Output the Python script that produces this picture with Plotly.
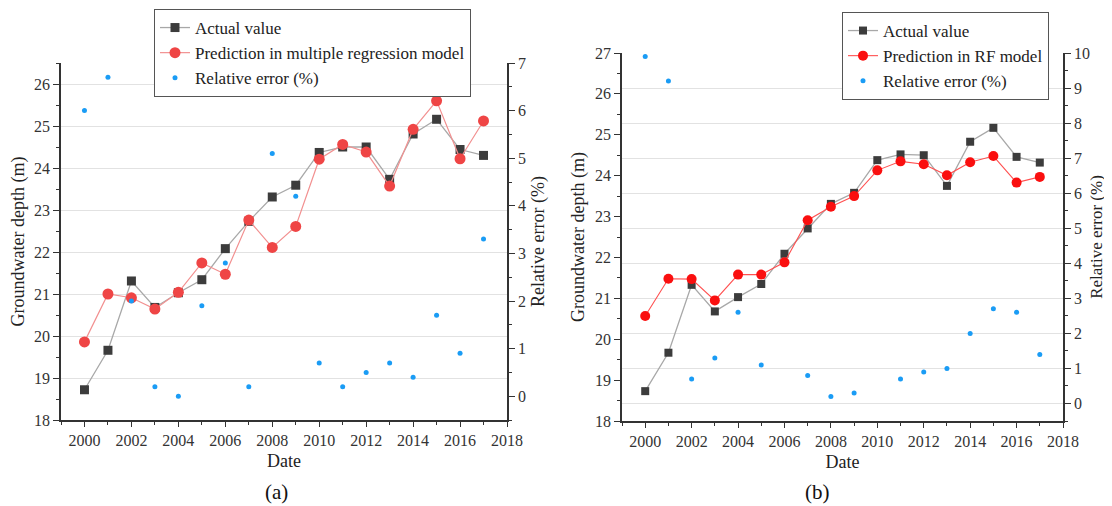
import plotly.graph_objects as go

years = list(range(2000, 2018))

actual_a = [18.72, 19.66, 21.31, 20.68, 21.03, 21.34, 22.08, 22.73, 23.31, 23.59,
            24.37, 24.50, 24.50, 23.73, 24.81, 25.16, 24.44, 24.30]
pred_mr = [19.86, 21.00, 20.91, 20.64, 21.04, 21.74, 21.47, 22.76, 22.11, 22.61,
           24.21, 24.56, 24.38, 23.57, 24.92, 25.60, 24.22, 25.12]
err_mr = [6.0, 6.7, 2.0, 0.2, 0.0, 1.9, 2.8, 0.2, 5.1, 4.2,
          0.7, 0.2, 0.5, 0.7, 0.4, 1.7, 0.9, 3.3]

actual_b = [18.73, 19.67, 21.33, 20.68, 21.03, 21.35, 22.09, 22.71, 23.31, 23.58,
            24.38, 24.52, 24.50, 23.75, 24.83, 25.17, 24.46, 24.32]
pred_rf = [20.57, 21.48, 21.47, 20.95, 21.58, 21.58, 21.88, 22.91, 23.24, 23.50,
           24.13, 24.35, 24.28, 24.01, 24.33, 24.48, 23.83, 23.97]
err_rf = [9.9, 9.2, 0.7, 1.3, 2.6, 1.1, None, 0.8, 0.2, 0.3,
          None, 0.7, 0.9, 1.0, 2.0, 2.7, 2.6, 1.4]

FONT = "Liberation Serif"
# the page body has an 8px margin, so the figure is drawn 8px in from the window edge
OFF = 8
W, H = 1112 - OFF, 506 - OFF

def px_x(p):
    return (p - OFF) / W

def px_y(p):
    return 1 - (p - OFF) / H

fig = go.Figure()

# Panel (a)
fig.add_trace(go.Scatter(x=years, y=actual_a, name="Actual value", mode="lines+markers",
                         line=dict(color="#a8a8a8", width=1.3),
                         marker=dict(symbol="square", size=9, color="#3c3c3c"),
                         xaxis="x", yaxis="y", legend="legend"))
fig.add_trace(go.Scatter(x=years, y=pred_mr, name="Prediction in multiple regression model",
                         mode="lines+markers",
                         line=dict(color="#f29090", width=1.2),
                         marker=dict(symbol="circle", size=11, color="#ef4545"),
                         xaxis="x", yaxis="y", legend="legend"))
fig.add_trace(go.Scatter(x=years, y=err_mr, name="Relative error (%)", mode="markers",
                         marker=dict(symbol="circle", size=5, color="#1a9cf5"),
                         xaxis="x", yaxis="y2", legend="legend"))

# Panel (b)
fig.add_trace(go.Scatter(x=years, y=actual_b, name="Actual value", mode="lines+markers",
                         line=dict(color="#a8a8a8", width=1.3),
                         marker=dict(symbol="square", size=8, color="#3c3c3c"),
                         xaxis="x2", yaxis="y3", legend="legend2"))
fig.add_trace(go.Scatter(x=years, y=pred_rf, name="Prediction in RF model", mode="lines+markers",
                         line=dict(color="#ff5050", width=1.1),
                         marker=dict(symbol="circle", size=10, color="#fa0f0f"),
                         xaxis="x2", yaxis="y3", legend="legend2"))
fig.add_trace(go.Scatter(x=years, y=err_rf, name="Relative error (%)", mode="markers",
                         marker=dict(symbol="circle", size=5, color="#1a9cf5"),
                         xaxis="x2", yaxis="y4", legend="legend2"))

AX = "#333333"
tickfont = dict(family=FONT, size=16, color="#333333")
titlefont = dict(family=FONT, size=18, color="#222222")

def xaxis(domain, anchor):
    return dict(domain=domain, anchor=anchor, range=[1999, 2018], tick0=2000, dtick=2,
                ticks="outside", ticklen=5, tickwidth=1.3, tickcolor=AX,
                minor=dict(ticks="outside", ticklen=3, dtick=1, tickcolor=AX, tickwidth=1.2),
                showline=True, linecolor=AX, linewidth=1.5, showgrid=False, zeroline=False,
                automargin=False,
                tickfont=tickfont, title=dict(text="Date", font=titlefont, standoff=6))

def yaxis(domain, anchor, rng, side, grid, title, standoff, overlaying=None, tsize=18):
    d = dict(domain=domain, anchor=anchor, range=rng, dtick=1, side=side,
             ticks="outside", ticklen=6, tickwidth=1.3, tickcolor=AX,
             minor=dict(ticks="outside", ticklen=3, dtick=0.5, tickcolor=AX, tickwidth=1.2),
             showline=True, linecolor=AX, linewidth=1.5, zeroline=False,
             showgrid=grid, gridcolor="#e2e2e2", gridwidth=1, automargin=False,
             tickfont=tickfont,
             title=dict(text=title, font=dict(family=FONT, size=tsize, color="#222222"),
                        standoff=standoff))
    if overlaying:
        d["overlaying"] = overlaying
    return d

dxa = [px_x(61), px_x(507)]
dya = [px_y(420), px_y(63)]
dxb = [px_x(622), px_x(1063)]
dyb = [px_y(421), px_y(53)]

legfont = dict(family=FONT, size=17, color="#222222")

fig.update_layout(
    width=W, height=H,
    margin=dict(l=0, r=0, t=0, b=0, pad=0, autoexpand=False),
    paper_bgcolor="white", plot_bgcolor="white",
    font=dict(family=FONT, color="#222222"),
    showlegend=True,
    xaxis=xaxis(dxa, "y"),
    yaxis=yaxis(dya, "x", [18, 26.5], "left", True, "Groundwater depth (m)", 8),
    yaxis2=yaxis(dya, "x", [-0.5, 7], "right", False, "Relative error (%)", 6, overlaying="y"),
    xaxis2=xaxis(dxb, "y3"),
    yaxis3=yaxis(dyb, "x2", [18, 27], "left", False, "Groundwater depth (m)", 6),
    yaxis4=yaxis(dyb, "x2", [-0.5, 10], "right", True, "Relative error (%)", 1,
                 overlaying="y3", tsize=17),
    legend=dict(x=px_x(154), y=px_y(9), xanchor="left", yanchor="top",
                bgcolor="white", bordercolor="#555555", borderwidth=1,
                font=legfont, tracegroupgap=0, itemwidth=30),
    legend2=dict(x=px_x(842), y=px_y(12), xanchor="left", yanchor="top",
                 bgcolor="white", bordercolor="#555555", borderwidth=1,
                 font=legfont, tracegroupgap=0, itemwidth=30),
    annotations=[
        dict(text="(a)", x=px_x(276), y=px_y(492), xref="paper", yref="paper",
             xanchor="center", yanchor="middle",
             showarrow=False, font=dict(family=FONT, size=21, color="#111111")),
        dict(text="(b)", x=px_x(817), y=px_y(492), xref="paper", yref="paper",
             xanchor="center", yanchor="middle",
             showarrow=False, font=dict(family=FONT, size=21, color="#111111")),
    ],
)

fig.write_html("out.html")
